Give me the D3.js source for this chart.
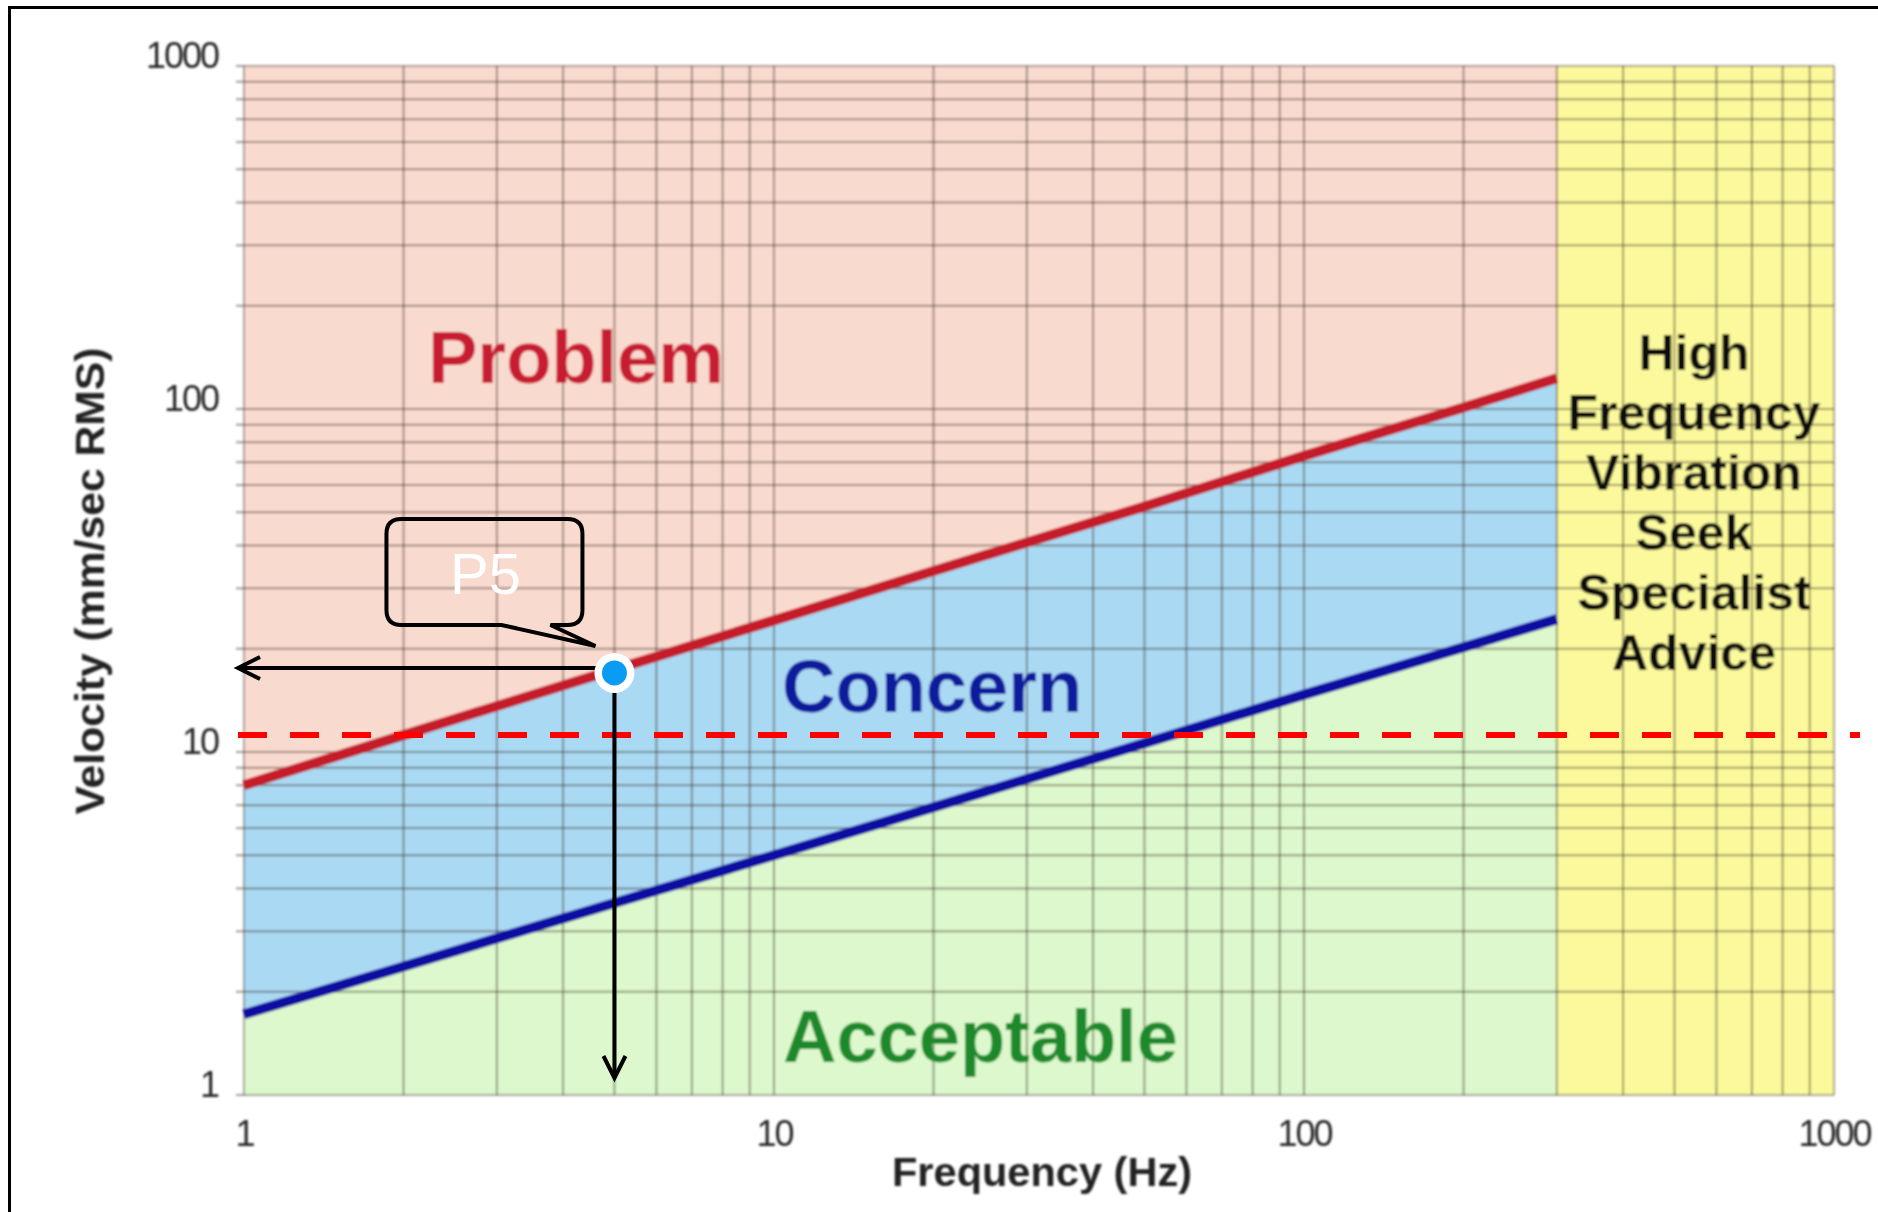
<!DOCTYPE html>
<html>
<head>
<meta charset="utf-8">
<script src="https://cdn.jsdelivr.net/npm/d3@7/dist/d3.min.js"></script>
<style>
  html, body { margin: 0; padding: 0; background: #fff; }
  svg { display: block; }
  text { font-family: "Liberation Sans", Arial, sans-serif; }
</style>
</head>
<body>
<svg id="chart" width="1878" height="1212"></svg>
<script>
// Vibration severity chart: velocity vs frequency on log-log axes

const freqHz        = [1, 2, 5, 10, 20, 50, 100, 200, 300];
const problemLimit  = [8.0, 11.2, 17.4, 24.2, 33.7, 52, 73, 101, 123];   // mm/s RMS
const concernLimit  = [1.72, 2.37, 3.63, 5.0, 6.9, 10.6, 14.7, 20.2, 24.4];
const highFreqStart = 300;
const axisTicks     = [1, 10, 100, 1000];
const alarmLevel    = 11.2;
const readingLabel  = "P5";
const readingFreq   = 5;
const readingVel    = 17;
const zoneLabels    = ["Problem", "Concern", "Acceptable"];
const adviceLines   = ["High", "Frequency", "Vibration", "Seek", "Specialist", "Advice"];

const svg = d3.select("#chart");
const W = 1878, H = 1212;

svg.append("rect").attr("width", W).attr("height", H).attr("fill", "#fff");

const x = d3.scaleLog().domain([1, 1000]).range([244, 1834]);
const y = d3.scaleLog().domain([1, 1000]).range([1095, 66]);

const defs = svg.append("defs");
defs.append("filter").attr("id", "soft")
  .attr("x", "-2%").attr("y", "-2%").attr("width", "104%").attr("height", "104%")
  .append("feGaussianBlur").attr("stdDeviation", 0.8);

const limits = freqHz.map((f, i) => ({ f, hi: problemLimit[i], lo: concernLimit[i] }));

const base = svg.append("g").attr("filter", "url(#soft)");

// zone fills
base.append("rect")
  .attr("x", x(1)).attr("y", y(1000))
  .attr("width", x(highFreqStart) - x(1)).attr("height", y(1) - y(1000))
  .attr("fill", "#f9dacf");

base.append("path").datum(limits)
  .attr("fill", "#dcf8cc")
  .attr("d", d3.area().x(d => x(d.f)).y0(y(1)).y1(d => y(d.lo)));

base.append("path").datum(limits)
  .attr("fill", "#aad9f3")
  .attr("d", d3.area().x(d => x(d.f)).y0(d => y(d.lo)).y1(d => y(d.hi)));

base.append("rect")
  .attr("x", x(highFreqStart)).attr("y", y(1000))
  .attr("width", x(1000) - x(highFreqStart)).attr("height", y(1) - y(1000))
  .attr("fill", "#fbf99c");

// log grid (1..9 per decade)
const gridVals = [];
for (let p = 0; p < 3; p++) for (let m = 1; m < 10; m++) gridVals.push(m * Math.pow(10, p));
gridVals.push(1000);

const grid = base.append("g").attr("stroke", "#3a2e22").attr("stroke-opacity", 0.46).attr("stroke-width", 2);
grid.selectAll("line.v").data(gridVals).join("line")
  .attr("class", "v")
  .attr("x1", d => x(d)).attr("x2", d => x(d))
  .attr("y1", y(1000)).attr("y2", y(1));
grid.selectAll("line.h").data(gridVals).join("line")
  .attr("class", "h")
  .attr("y1", d => y(d)).attr("y2", d => y(d))
  .attr("x1", x(1)).attr("x2", x(1000));
grid.selectAll("line.t").data(gridVals).join("line")
  .attr("class", "t")
  .attr("y1", d => y(d)).attr("y2", d => y(d))
  .attr("x1", x(1) - 8).attr("x2", x(1));

// limit lines
const line = d3.line().x(d => x(d.f));
base.append("path").datum(limits)
  .attr("fill", "none").attr("stroke", "#c41f2b").attr("stroke-width", 10)
  .attr("d", line.y(d => y(d.hi)));
base.append("path").datum(limits)
  .attr("fill", "none").attr("stroke", "#0c0ca2").attr("stroke-width", 10)
  .attr("d", line.y(d => y(d.lo)));

// zone labels
const zoneStyle = [
  { x: 428, y: 383, c: "#c81e30" },
  { x: 782, y: 712, c: "#0f1a9c" },
  { x: 783, y: 1062, c: "#1a8a2a" }
];
base.selectAll("text.zone").data(zoneLabels).join("text")
  .attr("class", "zone")
  .attr("x", (d, i) => zoneStyle[i].x).attr("y", (d, i) => zoneStyle[i].y)
  .attr("fill", (d, i) => zoneStyle[i].c)
  .attr("font-size", 74).attr("font-weight", "bold")
  .text(d => d);

base.selectAll("text.advice").data(adviceLines).join("text")
  .attr("class", "advice")
  .attr("x", 1694).attr("y", (d, i) => 370 + i * 60)
  .attr("text-anchor", "middle")
  .attr("font-size", 50).attr("font-weight", "bold").attr("fill", "#111")
  .text(d => d);

// axes
const fmt = d3.format("d");
const yAxis = base.append("g").attr("transform", `translate(${x(1)},0)`)
  .call(d3.axisLeft(y).tickValues(axisTicks).tickFormat(fmt).tickSize(0).tickPadding(26));
const xAxis = base.append("g").attr("transform", `translate(0,${y(1)})`)
  .call(d3.axisBottom(x).tickValues(axisTicks).tickFormat(fmt).tickSize(0).tickPadding(25));
[yAxis, xAxis].forEach(a => {
  a.select(".domain").remove();
  a.selectAll("text")
    .attr("font-family", "'Liberation Sans', Arial, sans-serif")
    .attr("font-size", 36).attr("letter-spacing", "-2px").attr("fill", "#2a2a2a");
});
yAxis.selectAll("text").attr("y", -10);

base.append("text")
  .attr("x", 1042).attr("y", 1186)
  .attr("text-anchor", "middle")
  .attr("font-size", 40).attr("font-weight", "bold").attr("fill", "#222")
  .attr("textLength", 300).attr("lengthAdjust", "spacingAndGlyphs")
  .text("Frequency (Hz)");

base.append("text")
  .attr("transform", "translate(104,581) rotate(-90)")
  .attr("text-anchor", "middle")
  .attr("font-size", 40).attr("font-weight", "bold").attr("fill", "#222")
  .attr("textLength", 467).attr("lengthAdjust", "spacingAndGlyphs")
  .text("Velocity (mm/sec RMS)");

// outer frame
svg.append("rect")
  .attr("x", 9.5).attr("y", 7.5).attr("width", W + 20).attr("height", H + 20)
  .attr("fill", "none").attr("stroke", "#000").attr("stroke-width", 3);

// alarm level
svg.append("line")
  .attr("x1", x(1) - 6).attr("x2", 1860)
  .attr("y1", y(alarmLevel)).attr("y2", y(alarmLevel))
  .attr("stroke", "#ff0000").attr("stroke-width", 6)
  .attr("stroke-dasharray", "29 23");

// reading marker with projections onto both axes
const px = x(readingFreq), py = y(readingVel);
const ov = svg.append("g").attr("fill", "none").attr("stroke", "#000")
  .attr("stroke-width", 4).attr("stroke-linejoin", "miter");

const hy = py - 5, hTip = x(1) - 6;
ov.append("line").attr("x1", px - 8).attr("x2", hTip).attr("y1", hy).attr("y2", hy);
ov.append("polyline").attr("points", `${hTip + 22},${hy - 11} ${hTip},${hy} ${hTip + 22},${hy + 11}`);

const vTip = y(1) - 17;
ov.append("line").attr("x1", px).attr("x2", px).attr("y1", py).attr("y2", vTip);
ov.append("polyline").attr("points", `${px - 11},${vTip - 22} ${px},${vTip} ${px + 11},${vTip - 22}`);

// speech-bubble callout
const L = px - 228, R = px - 32, T = py - 154, B = py - 48, r = 15;
const tipX = px - 19, tipY = py - 27;
const bubble = `M${L + r},${T} H${R - r} Q${R},${T} ${R},${T + r} V${B - r} Q${R},${B} ${R - r},${B}
  H${R - 32} L${tipX},${tipY} L${L + 115},${B} H${L + r} Q${L},${B} ${L},${B - r} V${T + r} Q${L},${T} ${L + r},${T} Z`;
ov.append("path").attr("d", bubble);
svg.append("text")
  .attr("x", L + 99).attr("y", B - 31)
  .attr("text-anchor", "middle")
  .attr("font-size", 58).attr("fill", "#fff")
  .text(readingLabel);

svg.append("circle").attr("cx", px).attr("cy", py).attr("r", 20).attr("fill", "#fff");
svg.append("circle").attr("cx", px).attr("cy", py).attr("r", 12.5).attr("fill", "#0a9cf2");
</script>
</body>
</html>
